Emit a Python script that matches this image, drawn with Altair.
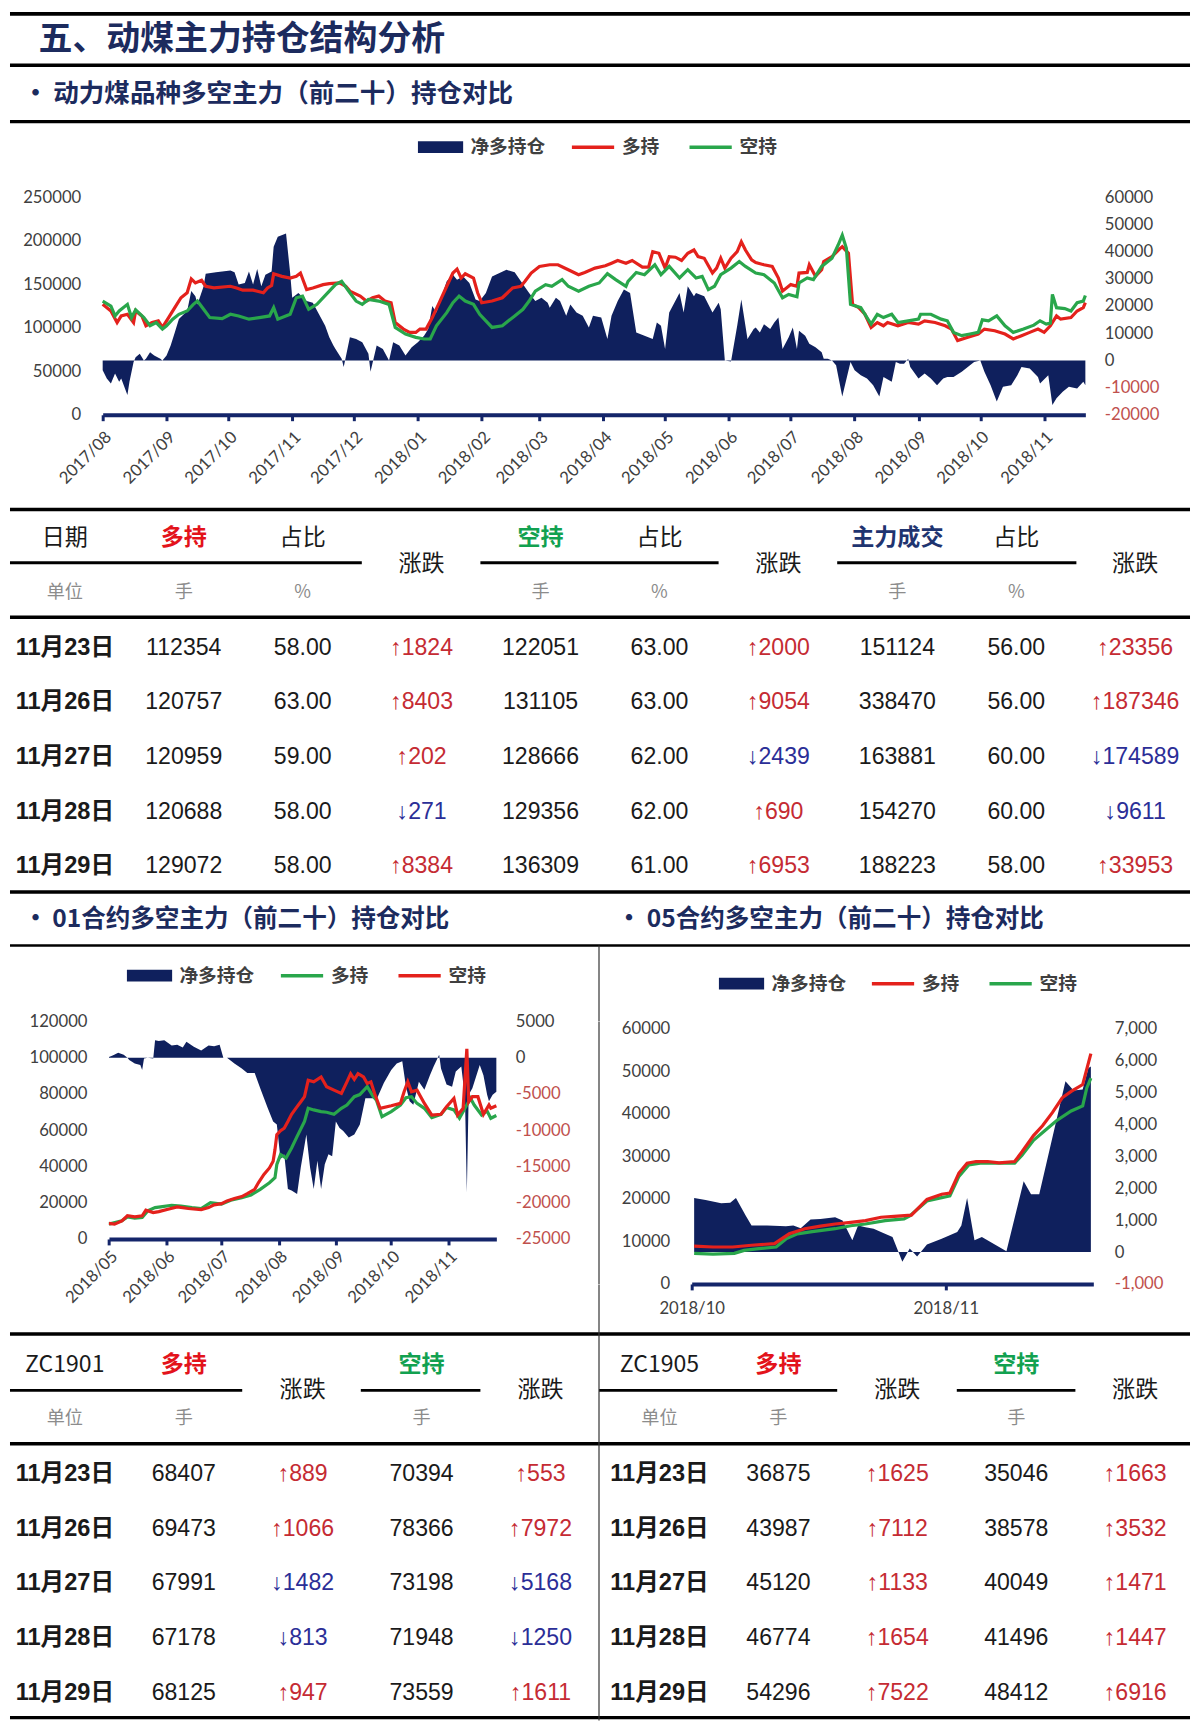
import altair as alt
import pandas as pd

FS = 0.986   # font / symbol size factor
SY = 0.992   # vertical compression so the page fits the window
W = 1184     # usable content width (page has an 8px margin)


def px(v):
    return round(v * FS, 2)


def pos(v):
    """page x position of the reference -> content x (content starts at page x = 8)"""
    return round(min(max(v - 8, 0), W), 2)


def py(v):
    return round(v * SY, 2)


CJK = "Noto Sans CJK SC"
NUMF = "'Liberation Sans', 'Noto Sans CJK SC'"
AXF = "Lato"

AREA_NAVY = "#0F205D"
AXIS_NAVY = "#14256A"
LINE_RED = "#E4211C"
LINE_GREEN = "#29A64B"
TITLE_NAVY = "#1C2B5E"
TXT = "#1A1A1A"
AX_TXT = "#404040"
NEG_TXT = "#C0504D"
HEAD_RED = "#E3131B"
HEAD_GREEN = "#12A150"
HEAD_NAVY = "#1F3470"
UP_RED = "#C52B33"
DOWN_BLUE = "#2B2E97"
UNIT_GRAY = "#8C8C8C"

# ---------------- main chart: 动力煤品种 (days since 2017-08-01) ----------------
MAIN_START = "2017-08-01"
MAIN_LONG_DAY = [0, 4, 7, 9, 12, 15, 16, 19, 21, 24, 27, 29, 32, 35, 38, 41, 43, 45, 48, 50,
                 54, 62, 65, 68, 73, 78, 80, 82, 83, 87, 91, 94, 96, 99, 102, 107, 110, 115, 118, 120,
                 125, 128, 131, 134, 137, 140, 142, 146, 149, 152, 154,
                 157, 160, 163, 167, 170, 172, 174, 176, 180, 182, 184, 189, 194, 199, 203, 205, 208, 212, 217, 221,
                 226, 231, 234, 239, 244, 247, 250, 254, 257, 262, 265, 267, 270, 273, 275, 278, 281, 284, 287, 289,
                 292, 296, 298, 300, 302, 305, 308, 310, 312, 315,
                 317, 321, 325, 328, 330, 334, 337, 338, 342, 343, 346, 349, 350, 354, 358, 359, 362, 364, 367, 370,
                 373, 376, 379, 381, 386, 391, 396, 399, 404, 409, 412, 415, 420, 425, 428, 433, 438, 442, 446, 450,
                 454, 457, 460, 463, 465, 470, 473, 476, 477]
MAIN_LONG_VAL = [127000, 119300, 106000, 113600, 115500, 106000, 119300, 113600, 102300, 106000,
                 108000, 100400, 111700, 123100, 134500, 140200, 156100, 151500, 154600, 147700,
                 145800, 147700, 145800, 143200, 143200, 140200, 145800, 148500, 162100, 159100,
                 157200, 159100, 162900, 143900, 145800, 149600, 150800, 151500, 147700, 142100,
                 136400, 130700, 134500, 136400, 130700, 128800, 106000, 98500, 94700, 94700, 98500,
                 98500, 111700, 126900, 147700, 162900, 167400, 157200, 162100, 157200, 140200,
                 128800, 130700, 134500, 145800, 147700, 153400, 162900, 170500, 172400, 172400,
                 166700, 161000, 163600, 168600, 171200, 174200, 177300, 174200, 177300, 169700,
                 169700, 187500, 185600, 168600, 181800, 181100, 177300, 185600, 189400, 181800,
                 179900, 162900, 168600, 179900, 168600, 179900, 187500, 198900, 189400, 178000,
                 175000, 172400, 170500, 157200, 142100, 149600, 147700, 162900, 163600, 172400,
                 159100, 166700, 176100, 181800, 191300, 193200, 185600, 126900, 123100, 115500,
                 100400, 106000, 102300, 106000, 102300, 106000, 104200, 108000, 106000, 102300,
                 98500, 85200, 89000, 92800, 98500, 96600, 92800, 87100, 90900, 94700,
                 98500, 94700, 102300, 113600, 109900, 111700, 119300, 123100, 128800]
MAIN_SHORT_DAY = [0, 4, 6, 8, 12, 14, 16, 20, 23, 26, 29, 31, 34, 37, 41, 44, 46, 49, 52, 58,
                  62, 66, 71, 76, 81, 83, 85, 91, 94, 97, 100, 104, 110, 113, 116, 120, 123, 126, 129, 134,
                  139, 142, 147, 152, 156,
                  159, 162, 167, 170, 173, 176, 180, 183, 186, 189, 194, 197, 200, 204, 207, 210, 215, 218, 223, 226,
                  231, 236, 241, 245, 249, 254, 255, 259, 263, 268, 271, 275, 280, 284, 288, 291, 294, 297, 300, 305,
                  309, 312,
                  317, 321, 326, 330, 333, 337, 338, 342, 345, 349, 354, 357, 359, 361, 363, 368, 371, 373, 376, 379,
                  383, 386, 391, 396, 397, 402, 407, 410, 413, 417, 421, 425, 427, 430, 434, 438, 442, 447, 452, 455,
                  458, 460, 461, 463, 467, 470, 473, 476, 477]
MAIN_SHORT_VAL = [130700, 125000, 113600, 119300, 126900, 111700, 120500, 111700, 102300, 106000,
                  98500, 102300, 109900, 115500, 119300, 126900, 130700, 121200, 111700, 110600,
                  115500, 113600, 109900, 111700, 113600, 123100, 109900, 115500, 134500, 136400,
                  121200, 126900, 142100, 149600, 153400, 140200, 130700, 126900, 132600, 130700,
                  126900, 100400, 92800, 89000, 87100,
                  87100, 102300, 117400, 128800, 136400, 130700, 126900, 115500, 108000, 100400,
                  102300, 108000, 113600, 121200, 130700, 142100, 149600, 147700, 155300, 147700,
                  142100, 147700, 151500, 162100, 155300, 147700, 153400, 163600, 161000, 172400,
                  161000, 170500, 157200, 166700, 157200, 159100, 143900, 147700, 161000, 168600,
                  176100, 170500,
                  162900, 161000, 151500, 134500, 138300, 135600, 151500, 157200, 155300, 170500,
                  179900, 195100, 206400, 191300, 126900, 123100, 111700, 104200, 115500, 111700,
                  115500, 106000, 108000, 109900, 115500, 115500, 109900, 108000, 94700, 90900,
                  92800, 94700, 109100, 108000, 113600, 102300, 94700, 98500, 103000, 108000,
                  104200, 105300, 138300, 123100, 122000, 119300, 128800, 130700, 137100]
MAIN_NET_DAY = [0, 2, 4, 6, 8, 9, 12, 13, 15, 16, 18, 20, 21, 23, 25, 28, 29, 31, 33, 35,
                37, 41, 43, 45, 46, 49, 50, 55, 62, 64, 66, 69, 71, 73, 75, 77, 79, 82, 83, 85,
                89, 91, 92, 95, 99, 102, 105, 108, 110, 112, 113, 116, 117, 120, 123, 126, 129, 130, 133, 136,
                139, 141, 144, 147, 150, 153, 156,
                157, 158, 160, 162, 167, 170, 172, 175, 178, 181, 183, 186, 189, 196, 200, 203, 207, 210, 213, 216,
                217, 220, 222, 225, 227, 230, 233, 236, 238, 242, 245, 247, 250, 253, 256, 259, 263, 267, 269, 271,
                273, 275, 280, 282, 284, 287, 288, 292, 296, 299, 300, 302, 305, 308, 310, 313, 316,
                317, 319, 321, 324, 326, 328, 330, 333, 335, 337, 338, 341, 343, 346, 349, 350, 352, 354, 356, 359,
                363, 365, 368, 371, 374, 377, 379, 383, 385, 387, 389, 391, 392, 396, 399, 402, 405, 408, 410, 413,
                417, 423, 426, 428, 431, 434, 437, 441, 444, 446, 450, 454, 455, 459, 461, 463, 466, 469, 473, 476,
                477]
MAIN_NET_VAL = [-3600, -6700, -8500, -4800, -7900, -6700, -12700, -7900, -600, 1200,
                2400, 0, 600, 3000, 1800, 600, 0, 1800, 5500, 10300,
                15200, 18200, 25500, 23600, 20600, 27300, 31900, 32400, 33100, 32400,
                27900, 28500, 32700, 27900, 33600, 27300, 31500, 32700, 41800, 45500,
                46700, 32100, 23000, 24800, 21800, 21200, 17000, 12700, 8500, 5500,
                4200, 600, -2400, 8500, 7900, 6700, 2400, -4200, 5500, 4200,
                0, 6700, 5500, 1800, 4800, 6700, 9100,
                10300, 11500, 20000, 17600, 29100, 31500, 29700, 30900, 28500, 22400,
                21800, 24800, 30900, 33300, 32400, 29100, 24800, 21800, 23000, 21200,
                19400, 23000, 21800, 16400, 20600, 17600, 16400, 12100, 16400, 15800,
                7900, 16400, 21800, 26100, 24800, 10300, 9100, 7900, 13900, 12700,
                4200, 17600, 24800, 17600, 27300, 23600, 24800, 23600, 17600, 21200,
                18800, 0, -400, 12700, 22400, 7900, 11500,
                12100, 10300, 13300, 11500, 13900, 15800, 4200, 8500, 12100, 4200,
                10900, 9100, 6100, 4800, 3000, 600, 600, 0, -1800, -13300,
                -600, -3600, -5500, -6700, -9100, -13300, -6100, -7900, -600, -1200,
                -1200, 600, -2400, -6700, -4800, -6700, -9100, -6700, -6100, -6100,
                -4200, -600, 0, -4200, -9100, -15100, -9700, -9100, -5500, -2400,
                -3000, -6100, -8500, -5500, -16400, -13900, -11500, -9700, -10300, -7900,
                -9100]

# ---------------- 01 contract (days since 2018-05-01) ----------------
C01_START = "2018-05-01"
C01_SHORT_DAY = [0, 3, 7, 10, 14, 18, 20, 24, 27, 32, 37, 43, 50, 54, 57, 61, 64, 68, 72, 75,
                 79, 81, 84, 87, 89, 90, 91, 93, 95, 97, 99, 102, 104, 106, 108, 111, 115, 118, 122, 126,
                 129, 131, 133, 135, 138, 140, 142, 144, 147, 153, 158, 160, 162, 164, 167, 171, 175, 180, 183, 187,
                 189, 192, 194, 195, 197, 200, 203, 206, 207, 210]
C01_SHORT_VAL = [8600, 8200, 10000, 12800, 12200, 12800, 15900, 14600, 15100, 16400,
                 17700, 16800, 16200, 17300, 18800, 19500, 21000, 22300, 23400, 25000,
                 27400, 31000, 35600, 39200, 42900, 49300, 57500, 59700, 61100, 64800,
                 68800, 73000, 75700, 78500, 87600, 86700, 89400, 84000, 82100, 80300,
                 86700, 91200, 88100, 91200, 89400, 85800, 86700, 80300, 72100, 73500,
                 74800, 81200, 86700, 81200, 82100, 74800, 68400, 68800, 73000, 77600,
                 68400, 72100, 104900, 75700, 78500, 78500, 68800, 73900, 72100, 73500]
C01_LONG_DAY = [0, 7, 10, 14, 18, 21, 25, 28, 34, 39, 45, 50, 55, 61, 66, 72, 77, 82, 87, 90,
                91, 93, 96, 99, 102, 106, 108, 111, 115, 118, 122, 126, 129, 133, 136, 140, 143, 145, 148, 153,
                158, 161, 164, 167, 171, 175, 180, 183, 187, 190, 193, 196, 198, 202, 205, 207, 210]
C01_LONG_VAL = [8200, 10000, 12200, 11500, 11900, 15500, 17300, 17700, 18600, 18100,
                17300, 16800, 20100, 19200, 21400, 22800, 24300, 27400, 31000, 33800,
                41100, 46500, 44700, 50200, 56600, 64800, 72100, 71200, 70300, 69900,
                68800, 72100, 73900, 78500, 79700, 84000, 79000, 76600, 67500, 70300,
                73900, 77900, 78500, 74800, 72100, 67000, 68800, 72500, 71200, 66600,
                72100, 77600, 73900, 68400, 70600, 66600, 68100]
C01_NET_DAY = [0, 2, 5, 8, 10, 11, 14, 17, 18, 19, 21, 24, 25, 27, 30, 34, 37, 40, 42, 46,
               50, 54, 57, 60, 62, 64, 68, 72, 75, 79, 82, 86, 89, 91, 93, 95, 97, 99, 102, 104,
               107, 109, 111, 113, 115, 117, 119, 121, 123, 125, 127, 130, 133, 136, 139, 143, 145, 149, 153, 156,
               159, 161, 163, 165, 168, 171, 174, 176, 179, 180, 183, 186, 188, 191, 193, 194, 195, 197, 201, 203,
               205, 206, 208, 210]
C01_NET_VAL = [100, 300, 700, 400, 0, -300, -800, -1000, -1700, -100,
               0, -100, 2400, 2300, 2400, 1700, 1800, 1400, 2200, 1500,
               1000, 1700, 1600, 1800, 0, 0, -800, -1500, -2100, -2100,
               -4200, -6900, -8800, -9200, -14000, -13300, -18100, -18300, -18800, -15100,
               -10600, -15100, -18100, -14200, -18100, -14700, -13300, -13600, -8800, -9700,
               -10100, -11000, -10600, -9200, -5600, -5600, -5800, -3500, -1700, -800,
               -500, -4000, -6000, -6500, -3300, -4400, -2400, -1200, 400, -1500,
               -3700, -4000, -1900, -1200, -5600, -18600, -5100, -4200, -1000, -2400,
               -5100, -6000, -5100, -4700]

# ---------------- 05 contract (days since 2018-10-01) ----------------
C05_START = "2018-10-01"
C05_LONG_DAY = [0.3, 2.6, 5.0, 7.3, 10.1, 11.9, 13.8, 15.7, 17.5, 19.4, 21.2, 23.1, 24.7, 26.8, 28.7,
                30.5, 31.5, 32.6, 33.6, 34.7, 36.1, 37.5, 39.4, 40.3, 41.7, 42.8, 44.0, 45.2, 46.3, 47.7, 48.7]
C05_LONG_VAL = [8900, 8700, 8700, 9100, 9500, 11800, 13000, 13600, 14100, 14500, 14900, 15700, 15900,
                16200, 19900, 21100, 21400, 26100, 28400, 28800, 28800, 28500, 28800, 31100, 34900, 37200,
                40300, 43800, 45300, 46900, 54200]
C05_SHORT_DAY = [0.3, 2.6, 5.2, 6.4, 8.2, 10.3, 11.5, 12.9, 14.7, 17.5, 19.4, 21.2, 23.6, 25.9, 26.6,
                 28.7, 30.5, 31.5, 32.6, 33.8, 35.2, 37.5, 39.4, 40.3, 41.7, 43.1, 44.5, 46.3, 47.7, 48.2, 48.7]
C05_SHORT_VAL = [7200, 7000, 7200, 7900, 8300, 8700, 10600, 11800, 12300, 13000, 13700, 14100, 14900,
                 15300, 16000, 19500, 20300, 20700, 25300, 28000, 28400, 28400, 28400, 30300, 33800, 36100,
                 38400, 40700, 41900, 46100, 48400]
C05_NET_DAY = [0.3, 1.7, 3.6, 4.7, 5.4, 6.6, 7.3, 9.2, 11.5, 12.4, 13.3, 14.5, 15.7, 17.5, 18.4, 19.6,
               20.3, 21.2, 22.2, 23.3, 24.5, 25.7, 26.6, 27.5, 28.7, 30.5, 32.4, 32.9, 33.6, 34.5, 35.4,
               38.4, 40.5, 41.4, 42.4, 45.6, 46.6, 47.7, 48.4, 48.7]
C05_NET_VAL = [1700, 1630, 1530, 1550, 1700, 1140, 830, 830, 810, 830, 750, 1020, 1040, 1090, 990, 370,
               830, 780, 730, 610, 470, -300, 110, -140, 240, 420, 630, 830, 1700, 370, 470,
               30, 2220, 1810, 1810, 5360, 5070, 5100, 5770, 5820]

# ---------------- tables ----------------
DATES = ["11月23日", "11月26日", "11月27日", "11月28日", "11月29日"]
T1_LONG = [112354, 120757, 120959, 120688, 129072]
T1_LONG_PCT = ["58.00", "63.00", "59.00", "58.00", "58.00"]
T1_LONG_CHG = [1824, 8403, 202, -271, 8384]
T1_SHORT = [122051, 131105, 128666, 129356, 136309]
T1_SHORT_PCT = ["63.00", "63.00", "62.00", "62.00", "61.00"]
T1_SHORT_CHG = [2000, 9054, -2439, 690, 6953]
T1_VOL = [151124, 338470, 163881, 154270, 188223]
T1_VOL_PCT = ["56.00", "56.00", "60.00", "60.00", "58.00"]
T1_VOL_CHG = [23356, 187346, -174589, -9611, 33953]

ZC01_LONG = [68407, 69473, 67991, 67178, 68125]
ZC01_LONG_CHG = [889, 1066, -1482, -813, 947]
ZC01_SHORT = [70394, 78366, 73198, 71948, 73559]
ZC01_SHORT_CHG = [553, 7972, -5168, -1250, 1611]
ZC05_LONG = [36875, 43987, 45120, 46774, 54296]
ZC05_LONG_CHG = [1625, 7112, 1133, 1654, 7522]
ZC05_SHORT = [35046, 38578, 40049, 41496, 48412]
ZC05_SHORT_CHG = [1663, 3532, 1471, 1447, 6916]

T1_HEAD = ["日期", "多持", "占比", "涨跌", "空持", "占比", "涨跌", "主力成交", "占比", "涨跌"]
T1_HEAD_STYLE = ["plain", "red", "plain", "mid", "green", "plain", "mid", "navy", "plain", "mid"]
T1_UNIT = ["单位", "手", "%", "", "手", "%", "", "手", "%", ""]
T2_HEAD = ["ZC1901", "多持", "涨跌", "空持", "涨跌", "ZC1905", "多持", "涨跌", "空持", "涨跌"]
T2_HEAD_STYLE = ["plain", "red", "mid", "green", "mid", "plain", "red", "mid", "green", "mid"]
T2_UNIT = ["单位", "手", "", "手", "", "单位", "手", "", "手", ""]

ONE = pd.DataFrame({"k": [0]})


def hline(x1, x2, y, w=3.5, color="#000000"):
    return alt.Chart(ONE).mark_rule(color=color, strokeWidth=py(w)).encode(
        x=alt.value(pos(x1)), x2=alt.value(pos(x2)), y=alt.value(py(y)))


def vline(x, y1, y2, w=1.2, color="#333333"):
    return alt.Chart(ONE).mark_rule(color=color, strokeWidth=w).encode(
        x=alt.value(pos(x)), y=alt.value(py(y1)), y2=alt.value(py(y2)))


def htext(s, x, y, size, color, weight="bold", align="left", font=CJK):
    return alt.Chart(ONE).mark_text(text=s, fontSize=px(size), font=font, fontWeight=weight, color=color,
                                    align=align, baseline="middle").encode(x=alt.value(pos(x)), y=alt.value(py(y)))


def series(start, days, vals, name):
    return pd.DataFrame({"date": pd.Timestamp(start) + pd.to_timedelta(days, unit="D"), "v": vals, "s": name})


def dt(y, m, d=1):
    return alt.DateTime(year=y, month=m, date=d)


def y_axis(orient, offset, values, fmt="d", neg_red=False, pad=22):
    color = alt.ExprRef(expr=f"datum.value < 0 ? '{NEG_TXT}' : '{AX_TXT}'") if neg_red else AX_TXT
    return alt.Axis(orient=orient, offset=offset, values=values, format=fmt,
                    labelExpr="replace(datum.label, '\u2212', '-')",
                    domain=False, ticks=False, tickSize=0, grid=False, title=None,
                    labelFont=AXF, labelFontSize=px(17), labelColor=color, labelPadding=pad,
                    labelOverlap=False, labelFlush=False)


def x_axis(offset, values, angle, pad):
    return alt.Axis(orient="bottom", offset=offset, values=values, format="%Y/%m", labelAngle=angle,
                    labelAlign="right" if angle else "center", labelBaseline="top",
                    labelFont=AXF, labelFontSize=px(17), labelColor=AX_TXT, labelPadding=py(pad),
                    domainColor=AXIS_NAVY, domainWidth=py(4), tickColor=AXIS_NAVY, tickWidth=3,
                    tickSize=py(6), grid=False, title=None, labelOverlap=False, labelFlush=False)


def leg_fill(x, y):
    return alt.Legend(orient="none", legendX=pos(x), legendY=py(y), direction="horizontal", title=None,
                      symbolType="M-1,-0.26H1V0.26H-1Z", symbolSize=px(46) ** 2, symbolOpacity=1,
                      symbolStrokeWidth=0, labelFont=CJK, labelFontSize=px(19), labelFontWeight="bold",
                      labelColor=AX_TXT, labelOffset=7, padding=0)


def leg_stroke(x, y):
    return alt.Legend(orient="none", legendX=pos(x), legendY=py(y), direction="horizontal", title=None,
                      symbolType="stroke", symbolSize=px(43) ** 2, symbolStrokeWidth=3.5,
                      labelFont=CJK, labelFontSize=px(19), labelFontWeight="bold", labelColor=AX_TXT,
                      labelOffset=6, columnPadding=22, padding=0)


def dual(area_df, line_dfs, stroke_dom, stroke_rng, xdom, xaxis, xrange, yrange,
         ldom, laxis, rdom, raxis, fill_legend, stroke_legend):
    X = alt.X("date:T", scale=alt.Scale(domain=xdom, range=xrange, nice=False), axis=xaxis, title=None)
    area = alt.Chart(area_df).mark_area(opacity=1, interpolate="linear").encode(
        x=X,
        y=alt.Y("v:Q", scale=alt.Scale(domain=rdom, range=yrange, nice=False, zero=False), axis=raxis),
        y2=alt.datum(0),
        fill=alt.Fill("s:N", scale=alt.Scale(domain=["净多持仓"], range=[AREA_NAVY]), legend=fill_legend),
    )
    lines = []
    for df in line_dfs:
        lines.append(alt.Chart(df).mark_line(strokeWidth=3.2, interpolate="linear").encode(
            x=X,
            y=alt.Y("v:Q", scale=alt.Scale(domain=ldom, range=yrange, nice=False, zero=False), axis=laxis),
            stroke=alt.Stroke("s:N", scale=alt.Scale(domain=stroke_dom, range=stroke_rng), legend=stroke_legend),
        ))
    return alt.layer(area, alt.layer(*lines)).resolve_scale(y="independent")


# ---------------- header band (reference y 3 .. 190) ----------------
header = alt.layer(
    hline(0, 1200, 2, 4),
    htext("五、动煤主力持仓结构分析", 36.6, 28, 34.5, TITLE_NAVY),
    hline(0, 1200, 54, 3.5),
    htext("•", 33.6, 83, 26, TITLE_NAVY, align="center"),
    htext("动力煤品种多空主力（前二十）持仓对比", 51.4, 83, 26, TITLE_NAVY),
    hline(0, 1200, 111, 3.5),
).properties(width=W, height=py(187))

# ---------------- main chart row ----------------
main_area = series(MAIN_START, MAIN_NET_DAY, MAIN_NET_VAL, "净多持仓")
main_long = series(MAIN_START, MAIN_LONG_DAY, MAIN_LONG_VAL, "多持")
main_short = series(MAIN_START, MAIN_SHORT_DAY, MAIN_SHORT_VAL, "空持")
main_ticks = [dt(2017, m) for m in range(8, 13)] + [dt(2018, m) for m in range(1, 12)]
main_chart = dual(
    main_area, [main_long, main_short], ["多持", "空持"], [LINE_RED, LINE_GREEN],
    [dt(2017, 8, 1), dt(2018, 11, 21)], x_axis(0, main_ticks, -45, 8), [pos(101), pos(1087)], [py(220), 0],
    [0, 250000], y_axis("left", -pos(101), [0, 50000, 100000, 150000, 200000, 250000]),
    [-20000, 60000], y_axis("right", pos(1087) - W, list(range(-20000, 60001, 10000)), neg_red=True, pad=19),
    leg_fill(417, -74), leg_stroke(570, -74),
).properties(width=W, height=py(220))

# ---------------- tables ----------------
COLS = [f"c{i}" for i in range(10)]
ROWS = ["hd", "un", "r0", "r1", "r2", "r3", "r4"]


def body_frame(columns, kinds):
    recs = []
    for j, (vals, kind) in enumerate(zip(columns, kinds)):
        for i, v in enumerate(vals):
            if kind == "chg":
                k = "up" if v >= 0 else "down"
                t = ("↑" if v >= 0 else "↓") + str(abs(v))
            else:
                k = kind
                t = str(v)
            recs.append({"col": COLS[j], "row": ROWS[2 + i], "text": t, "kind": k})
    return pd.DataFrame(recs)


def table_chart(body, head, head_style, unit, row_lo, row_hi, height, deco):
    X = alt.X("col:N", scale=alt.Scale(type="point", domain=COLS, range=[pos(63), pos(1137)], padding=0), axis=None)
    Y = alt.Y("row:N", scale=alt.Scale(type="point", domain=ROWS, range=[py(row_lo), py(row_hi)], padding=0),
              axis=None)

    def tl(df, **mk):
        return alt.Chart(df).mark_text(baseline="middle", align="center", **mk).encode(x=X, y=Y, text="text:N")

    heads = pd.DataFrame({"col": COLS, "row": "hd", "text": head, "style": head_style})
    units = pd.DataFrame({"col": COLS, "row": "un", "text": unit})
    units = units[units["text"] != ""]
    layers = list(deco)
    layers.append(tl(body[body["kind"] == "date"], font=NUMF, fontSize=px(24), fontWeight="bold", color=TXT))
    layers.append(tl(body[body["kind"] == "num"], font=NUMF, fontSize=px(23.5), color=TXT))
    layers.append(tl(body[body["kind"] == "up"], font=NUMF, fontSize=px(23.5), color=UP_RED))
    layers.append(tl(body[body["kind"] == "down"], font=NUMF, fontSize=px(23.5), color=DOWN_BLUE))
    layers.append(tl(heads[heads["style"] == "plain"], font=CJK, fontSize=px(23.5), color=TXT))
    for st, colr in [("red", HEAD_RED), ("green", HEAD_GREEN), ("navy", HEAD_NAVY)]:
        sub = heads[heads["style"] == st]
        if len(sub):
            layers.append(tl(sub, font=CJK, fontSize=px(23.5), fontWeight="bold", color=colr))
    layers.append(tl(heads[heads["style"] == "mid"], font=CJK, fontSize=px(23.5), color=TXT, dy=py(26)))
    layers.append(tl(units, font=CJK, fontSize=px(18.5), color=UNIT_GRAY))
    return alt.layer(*layers).properties(width=W, height=py(height))


t1_body = body_frame(
    [DATES, T1_LONG, T1_LONG_PCT, T1_LONG_CHG, T1_SHORT, T1_SHORT_PCT, T1_SHORT_CHG, T1_VOL, T1_VOL_PCT, T1_VOL_CHG],
    ["date", "num", "num", "chg", "num", "num", "chg", "num", "num", "chg"])
t1_deco = [
    hline(0, 1200, 95, 3.5),
    hline(0, 361, 149, 3), hline(480, 719, 149, 3), hline(838, 1078, 149, 3),
    hline(0, 1200, 204, 3.5),
    hline(0, 1200, 482, 3.5),
    htext("•", 33.6, 510, 25, TITLE_NAVY, align="center"),
    htext("01合约多空主力（前二十）持仓对比", 50.4, 510, 25, TITLE_NAVY),
    htext("•", 629.2, 510, 25, TITLE_NAVY, align="center"),
    htext("05合约多空主力（前二十）持仓对比", 646.9, 510, 25, TITLE_NAVY),
    hline(0, 1200, 536, 2.5),
    vline(599, 536, 612.5),
]
table1 = table_chart(t1_body, T1_HEAD, T1_HEAD_STYLE, T1_UNIT, 124, 456, 612.5, t1_deco)

t2_body = body_frame(
    [DATES, ZC01_LONG, ZC01_LONG_CHG, ZC01_SHORT, ZC01_SHORT_CHG, DATES, ZC05_LONG, ZC05_LONG_CHG, ZC05_SHORT,
     ZC05_SHORT_CHG],
    ["date", "num", "chg", "num", "chg", "date", "num", "chg", "num", "chg"])
t2_deco = [
    hline(0, 1200, 50, 3.5),
    hline(0, 241, 107, 3), hline(360, 480, 107, 3), hline(599, 838, 107, 3), hline(958, 1077, 107, 3),
    hline(0, 1200, 161, 3.5),
    hline(0, 1200, 438, 3.5),
    vline(599, 0, 441),
]
table2 = table_chart(t2_body, T2_HEAD, T2_HEAD_STYLE, T2_UNIT, 81, 413, 441, t2_deco)

# ---------------- contract charts row ----------------
c01_area = series(C01_START, C01_NET_DAY, C01_NET_VAL, "净多持仓")
c01_long = series(C01_START, C01_LONG_DAY, C01_LONG_VAL, "多持")
c01_short = series(C01_START, C01_SHORT_DAY, C01_SHORT_VAL, "空持")
c01 = dual(
    c01_area, [c01_long, c01_short], ["多持", "空持"], [LINE_GREEN, LINE_RED],
    [dt(2018, 5, 1), dt(2018, 11, 27)], x_axis(py(220) - py(265.5), [dt(2018, m) for m in range(5, 12)], -45, 3),
    [pos(107.3), pos(496)], [py(220), 0],
    [0, 120000], y_axis("left", -pos(107.3), list(range(0, 120001, 20000))),
    [-25000, 5000], y_axis("right", pos(496) - W, list(range(-25000, 5001, 5000)), neg_red=True, pad=19),
    leg_fill(125, -69.5), leg_stroke(278, -69.5),
)

c05_area = series(C05_START, C05_NET_DAY, C05_NET_VAL, "净多持仓")
c05_long = series(C05_START, C05_LONG_DAY, C05_LONG_VAL, "多持")
c05_short = series(C05_START, C05_SHORT_DAY, C05_SHORT_VAL, "空持")
c05 = dual(
    c05_area, [c05_short, c05_long], ["多持", "空持"], [LINE_RED, LINE_GREEN],
    [dt(2018, 10, 1), dt(2018, 11, 19)], x_axis(0, [dt(2018, 10), dt(2018, 11)], 0, 11),
    [pos(692), pos(1095)], [py(265.5), py(7.5)],
    [0, 60000], y_axis("left", -pos(692), list(range(0, 60001, 10000))),
    [-1000, 7000], y_axis("right", pos(1095) - W, list(range(-1000, 7001, 1000)), fmt=",d", neg_red=True,
                          pad=21),
    leg_fill(719, -61.5), leg_stroke(871, -61.5),
)

chart_row = alt.layer(c01, c05, vline(599, 0, 265.5)).resolve_scale(
    x="independent", y="independent", fill="independent", stroke="independent"
).properties(width=W, height=py(265.5))

page = alt.vconcat(header, main_chart, table1, chart_row, table2, spacing=0, bounds="flush").resolve_scale(
    fill="independent", stroke="independent", color="independent"
).properties(padding=0, background="white").configure_view(stroke=None)

page.save("out.html", embed_options={"renderer": "svg", "actions": False})
